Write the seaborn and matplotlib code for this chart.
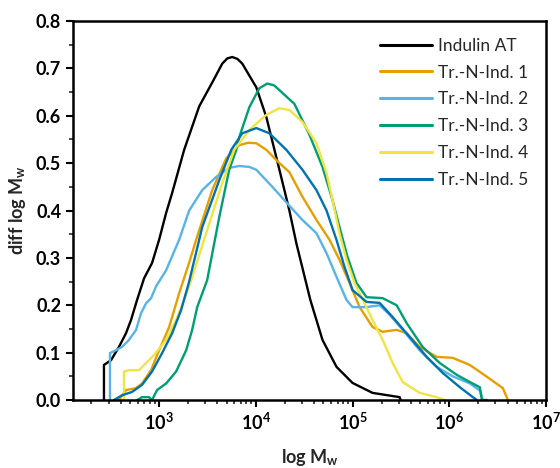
import numpy as np
import pandas as pd
import matplotlib
matplotlib.use("Agg")
import matplotlib.pyplot as plt
import matplotlib.ticker as mticker
import seaborn as sns

# ---- data (x given as log10 of Mw, y = diff log Mw) ----
series_names = ["Indulin AT", "Tr.-N-Ind. 1", "Tr.-N-Ind. 2",
                "Tr.-N-Ind. 3", "Tr.-N-Ind. 4", "Tr.-N-Ind. 5"]
series_colors = ["#000000", "#E69F00", "#56B4E9", "#009E73", "#F0E442", "#0072B2"]

indulin_logm = [2.43, 2.43, 2.503, 2.585, 2.658, 2.71, 2.772, 2.845, 2.927, 3.0, 3.073,
                3.135, 3.259, 3.415, 3.549, 3.653, 3.705, 3.756, 3.81, 3.86, 4.005, 4.109, 4.244,
                4.347, 4.42, 4.564, 4.689, 4.834, 5.0, 5.207, 5.487, 5.497]
indulin_y = [0.0, 0.074, 0.084, 0.112, 0.141, 0.169, 0.211, 0.257, 0.289, 0.338, 0.395,
             0.437, 0.528, 0.62, 0.67, 0.71, 0.721, 0.724, 0.72, 0.71, 0.66, 0.597, 0.486,
             0.40, 0.33, 0.211, 0.127, 0.07, 0.036, 0.015, 0.006, 0.0]

ind1_logm = [2.585, 2.658, 2.762, 2.824, 2.917, 3.0, 3.104, 3.207, 3.311, 3.383, 3.549,
             3.694, 3.829, 3.92, 4.005, 4.109, 4.244, 4.347, 4.482, 4.627, 4.762, 4.865,
             4.969, 5.073, 5.207, 5.311, 5.456, 5.56, 5.694, 5.87, 6.036, 6.212,
             6.389, 6.554, 6.606]
ind1_y = [0.0, 0.021, 0.025, 0.035, 0.063, 0.105, 0.154, 0.225, 0.29, 0.338, 0.443,
          0.51, 0.538, 0.543, 0.542, 0.528, 0.50, 0.481, 0.429, 0.38, 0.338, 0.296,
          0.247, 0.196, 0.154, 0.144, 0.148, 0.141, 0.112, 0.091, 0.089, 0.074,
          0.049, 0.025, 0.0]

ind2_logm = [2.492, 2.492, 2.554, 2.617, 2.689, 2.762, 2.813, 2.865, 2.917, 2.969,
             3.073, 3.207, 3.311, 3.446, 3.591, 3.725, 3.829, 3.933, 4.005, 4.171,
             4.347, 4.482, 4.627, 4.731, 4.834, 4.938, 5.0, 5.145, 5.28, 5.383,
             5.518, 5.694, 5.87, 6.036, 6.212, 6.316, 6.347]
ind2_y = [0.0, 0.099, 0.105, 0.112, 0.127, 0.148, 0.183, 0.204, 0.215, 0.24,
          0.274, 0.338, 0.40, 0.443, 0.471, 0.49, 0.494, 0.492, 0.486, 0.45,
          0.41, 0.38, 0.352, 0.31, 0.26, 0.211, 0.196, 0.196, 0.20, 0.18,
          0.148, 0.105, 0.07, 0.05, 0.035, 0.02, 0.0]

ind3_logm = [2.772, 2.824, 2.896, 2.927, 2.979, 3.073, 3.176, 3.28, 3.342, 3.394,
             3.497, 3.622, 3.725, 3.798, 3.829, 3.933, 4.036, 4.119, 4.19, 4.244, 4.399,
             4.554, 4.689, 4.793, 4.865, 4.948, 5.041, 5.145, 5.311, 5.456, 5.56,
             5.725, 5.902, 6.078, 6.212, 6.316, 6.337, 6.389]
ind3_y = [0.0, 0.006, 0.006, 0.0, 0.021, 0.035, 0.06, 0.105, 0.148, 0.196,
          0.253, 0.386, 0.486, 0.528, 0.555, 0.618, 0.658, 0.668, 0.664, 0.654, 0.625,
          0.56, 0.492, 0.422, 0.365, 0.302, 0.247, 0.217, 0.215, 0.20, 0.162,
          0.112, 0.078, 0.053, 0.038, 0.027, 0.0, 0.0]

ind4_logm = [2.637, 2.637, 2.689, 2.793, 2.865, 2.948, 3.073, 3.176, 3.259, 3.332,
             3.487, 3.653, 3.777, 3.933, 4.109, 4.244, 4.347, 4.482, 4.627, 4.731,
             4.793, 4.865, 4.938, 5.021, 5.093, 5.207, 5.311, 5.415, 5.518, 5.694,
             5.87, 5.953]
ind4_y = [0.0, 0.06, 0.063, 0.063, 0.078, 0.095, 0.127, 0.169, 0.211, 0.253,
          0.352, 0.458, 0.528, 0.57, 0.602, 0.616, 0.612, 0.587, 0.542, 0.479,
          0.422, 0.352, 0.296, 0.247, 0.217, 0.169, 0.127, 0.078, 0.038, 0.015,
          0.006, 0.0]

ind5_logm = [2.534, 2.617, 2.72, 2.824, 2.927, 3.031, 3.135, 3.228, 3.311, 3.446,
             3.622, 3.746, 3.86, 4.005, 4.14, 4.316, 4.482, 4.627, 4.731, 4.834,
             4.917, 5.0, 5.145, 5.28, 5.415, 5.591, 5.767, 5.933, 6.109, 6.244, 6.285]
ind5_y = [0.0, 0.01, 0.017, 0.032, 0.06, 0.099, 0.141, 0.19, 0.25, 0.365,
          0.464, 0.528, 0.563, 0.574, 0.563, 0.528, 0.486, 0.443, 0.40, 0.338,
          0.281, 0.232, 0.207, 0.205, 0.175, 0.133, 0.091, 0.057, 0.027, 0.006, 0.0]

y_ticks = [0.0, 0.1, 0.2, 0.3, 0.4, 0.5, 0.6, 0.7, 0.8]
x_decades = [3, 4, 5, 6, 7]

all_logm = [indulin_logm, ind1_logm, ind2_logm, ind3_logm, ind4_logm, ind5_logm]
all_y = [indulin_y, ind1_y, ind2_y, ind3_y, ind4_y, ind5_y]

frames = []
for name, lx, yy in zip(series_names, all_logm, all_y):
    frames.append(pd.DataFrame({"M": 10 ** np.array(lx), "y": yy, "sample": name}))
df = pd.concat(frames, ignore_index=True)

# ---- style ----
sns.set_style("ticks")
plt.rcParams["font.family"] = ["Lato", "DejaVu Sans"]
plt.rcParams["mathtext.fontset"] = "custom"
plt.rcParams["mathtext.rm"] = "Lato"
plt.rcParams["mathtext.bf"] = "Lato:bold"
plt.rcParams["mathtext.it"] = "Lato:italic"

fig = plt.figure(figsize=(5.6, 4.68), dpi=100)
ax = fig.add_axes([73 / 560, 68 / 468, (546 - 73) / 560, (400 - 21) / 468])

sns.lineplot(data=df, x="M", y="y", hue="sample", hue_order=series_names,
             palette=dict(zip(series_names, series_colors)),
             sort=False, estimator=None, linewidth=1.7, ax=ax, legend=False,
             solid_joinstyle="round", solid_capstyle="round")

ax.set_xscale("log")
ax.set_xlim(10 ** 2.11, 1e7)
ax.set_ylim(0, 0.8)

ax.xaxis.set_major_locator(mticker.FixedLocator([10.0 ** d for d in x_decades]))
ax.xaxis.set_major_formatter(mticker.FuncFormatter(
    lambda v, p: r"$\mathbf{10^{%d}}$" % int(round(np.log10(v)))))
ax.xaxis.set_minor_locator(mticker.LogLocator(base=10, subs=np.arange(2, 10), numticks=20))
ax.xaxis.set_minor_formatter(mticker.NullFormatter())

ax.yaxis.set_major_locator(mticker.FixedLocator(y_ticks))
ax.yaxis.set_major_formatter(mticker.FormatStrFormatter("%.1f"))
ax.yaxis.set_minor_locator(mticker.MultipleLocator(0.05))

for s in ax.spines.values():
    s.set_visible(True)
    s.set_linewidth(1.8)
    s.set_color("black")

ax.tick_params(axis="both", which="major", direction="out", length=5, width=1.5,
               labelsize=13, colors="black", top=False, right=False)
ax.tick_params(axis="both", which="minor", direction="out", length=3, width=1.2,
               top=False, right=False)
for lab in ax.get_yticklabels():
    lab.set_fontweight("bold")
for lab in ax.get_xticklabels():
    lab.set_fontweight("bold")

ax.set_xlabel(r"log M$_\mathbf{w}$", fontsize=13, fontweight="bold", labelpad=10)
ax.set_ylabel(r"diff log M$_\mathbf{w}$", fontsize=13, fontweight="bold", labelpad=6)

handles = [plt.Line2D([], [], color=c, linewidth=2.2) for c in series_colors]
ax.legend(handles, series_names, loc="upper right", frameon=False, fontsize=12.5,
          handlelength=3.0, handletextpad=0.35, labelspacing=0.62,
          bbox_to_anchor=(0.99, 0.99), borderaxespad=0.35)

fig.savefig("out.png", dpi=100)
